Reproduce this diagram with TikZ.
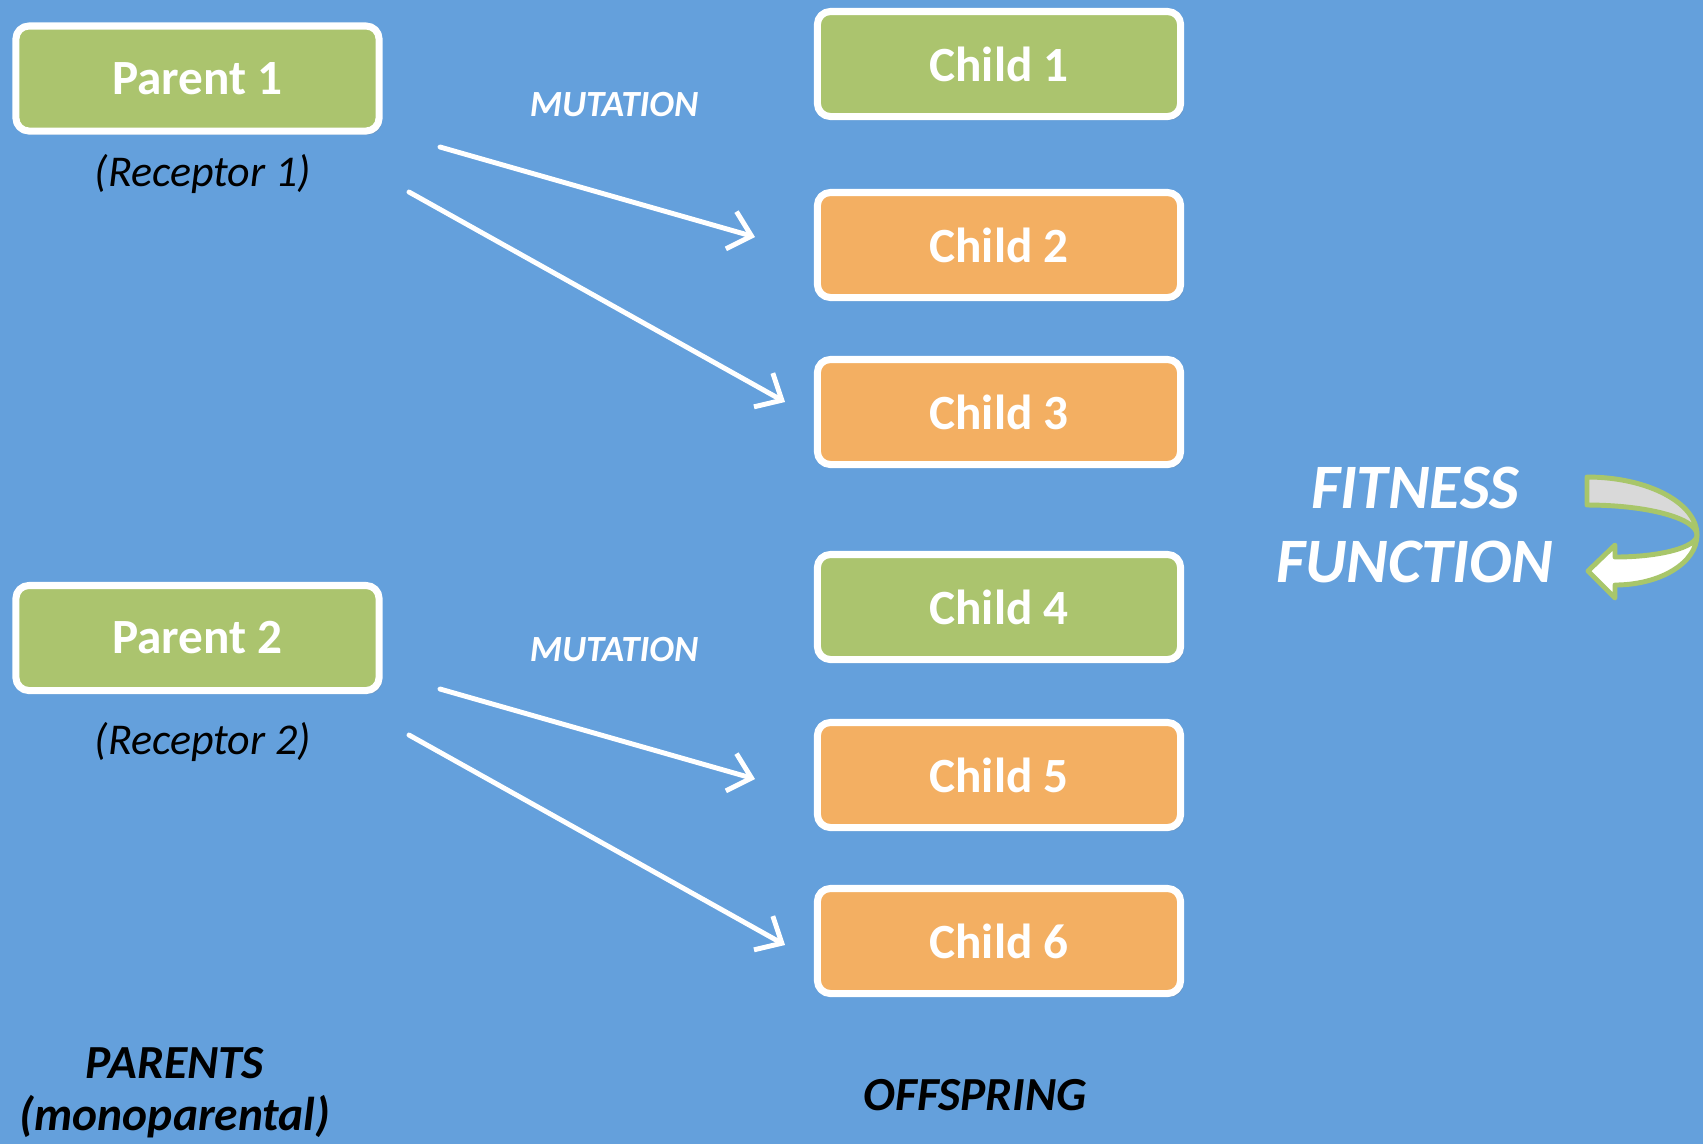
\documentclass[tikz,border=0pt]{standalone}
\usepackage{fontspec}
\setmainfont{Carlito}
\usetikzlibrary{arrows.meta,shadows}
\definecolor{bgblue}{RGB}{100,160,220}
\definecolor{boxgreen}{RGB}{171,196,110}
\definecolor{boxorange}{RGB}{243,175,98}
\definecolor{loopgreen}{RGB}{168,198,106}
\definecolor{loopgray}{RGB}{217,217,217}
\tikzset{
  genbox/.style={draw=white,line width=2pt,rounded corners=0.13cm,
    minimum width=3.63cm,minimum height=1.05cm,text=white,
    font=\fontsize{14}{17}\selectfont\bfseries,
    drop shadow={opacity=0.25,shadow xshift=0.8pt,shadow yshift=-1pt}},
  greenbox/.style={genbox,fill=boxgreen},
  orangebox/.style={genbox,fill=boxorange},
  receptor/.style={font=\fontsize{12.5}{15}\selectfont\itshape},
  mutlabel/.style={text=white,font=\fontsize{10.5}{13}\selectfont\bfseries\itshape},
  heading/.style={align=center,font=\fontsize{13.5}{14.8}\selectfont\bfseries\itshape},
  fitlabel/.style={align=center,text=white,font=\fontsize{18}{21}\selectfont\bfseries\itshape},
  mutarrow/.style={->,draw=white,line width=1.4pt}
}
\begin{document}
\begin{tikzpicture}[line cap=round,line join=round,>={Straight Barb[length=6pt,width=11pt]},x=0.01cm,y=0.01cm]
\fill[bgblue] (0,0) rectangle (1703,-1144);
\useasboundingbox (0,0) rectangle (1703,-1144);
% parents
\node[greenbox] (p1) at (197.5,-78.5) {Parent 1};
\node[greenbox] (p2) at (197.5,-638) {Parent 2};
\node[receptor] (r1) at (203,-174) {(Receptor 1)};
\node[receptor] (r2) at (203,-742) {(Receptor 2)};
% offspring
\node[greenbox] (c1) at (999,-64) {Child 1};
\node[orangebox] (c2) at (999,-245) {Child 2};
\node[orangebox] (c3) at (999,-412) {Child 3};
\node[greenbox] (c4) at (999,-607) {Child 4};
\node[orangebox] (c5) at (999,-775) {Child 5};
\node[orangebox] (c6) at (999,-941) {Child 6};
\node[mutlabel] (m1) at (614,-105) {MUTATION};
\node[mutlabel] (m2) at (614,-650) {MUTATION};
% mutation arrows
\coordinate (a1s) at (440,-147);
\coordinate (a1e) at (755,-237);
\coordinate (a2s) at (409,-192);
\coordinate (a2e) at (785,-402);
\coordinate (a3s) at (440,-689);
\coordinate (a3e) at (755,-779);
\coordinate (a4s) at (409,-735);
\coordinate (a4e) at (785,-945);
\draw[mutarrow] (a1s) -- (a1e);
\draw[mutarrow] (a2s) -- (a2e);
\draw[mutarrow] (a3s) -- (a3e);
\draw[mutarrow] (a4s) -- (a4e);
% captions
\node[heading] (par) at (175,-1093) {PARENTS\\(monoparental)};
\node[heading] (off) at (975,-1095) {OFFSPRING};
\node[fitlabel] (fit) at (1415,-525) {FITNESS\\FUNCTION};
% curved arrow
\filldraw[fill=loopgray,draw=loopgreen,line width=1.4pt] (1587,-477)
  arc[start angle=90,end angle=0,x radius=110,y radius=58]
  arc[start angle=0,end angle=90,x radius=110,y radius=30] -- cycle;
\filldraw[fill=white,draw=loopgreen,line width=1.4pt] (1615,-557) -- (1615,-545) -- (1588,-571) -- (1615,-598) -- (1615,-585)
  arc[start angle=270,end angle=360,x radius=82,y radius=50]
  arc[start angle=0,end angle=-90,x radius=82,y radius=22] -- cycle;
\end{tikzpicture}
\end{document}
